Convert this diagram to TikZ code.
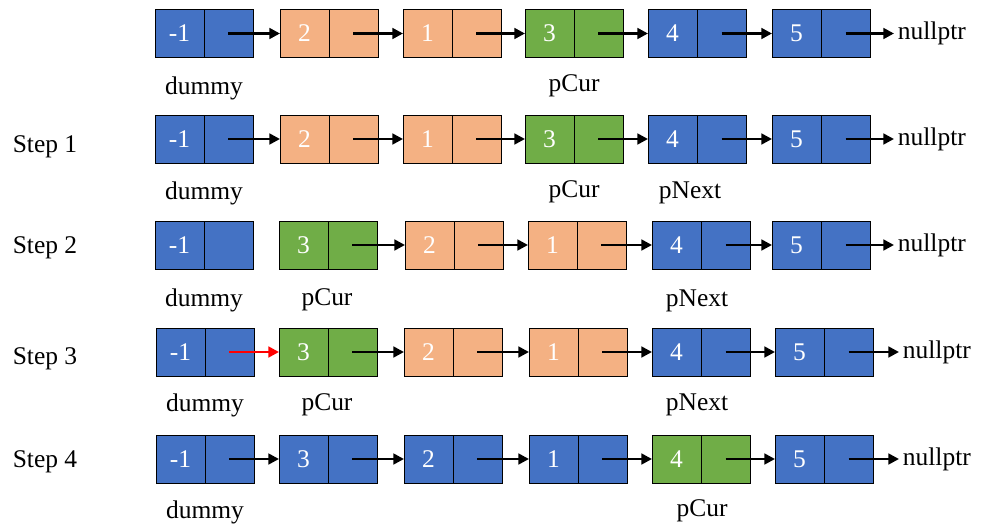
\documentclass[tikz,border=0pt]{standalone}
\usepackage{fontspec}
\setmainfont{Liberation Serif}
\usetikzlibrary{arrows.meta,positioning}
\definecolor{nodeblue}{HTML}{4472C4}
\definecolor{nodeorange}{HTML}{F4B183}
\definecolor{nodegreen}{HTML}{70AD47}
\definecolor{swapred}{HTML}{FF0000}

\begin{document}
\begin{tikzpicture}[x=0.02cm, y=-0.02cm,
  every node/.style={font=\fontsize{14.5}{17}\selectfont},
  valcell/.style={draw=black, line width=0.5pt, minimum width=0.98cm, minimum height=0.96cm,
    inner sep=0pt, outer sep=0pt, text=white, anchor=west},
  ptrcell/.style={draw=black, line width=0.5pt, minimum width=0.98cm, minimum height=0.96cm,
    inner sep=0pt, outer sep=0pt},
  nulltxt/.style={anchor=west, inner sep=2pt},
  link/.style={line width=1.6pt, -{Triangle[length=6pt,width=6pt]}},
]
\useasboundingbox (0,0) rectangle (982,530);

% Row 0: list before reversing
\foreach \i/\x/\v/\c in {1/155/-1/nodeblue, 2/280/2/nodeorange, 3/403/1/nodeorange,
    4/525/3/nodegreen, 5/648/4/nodeblue, 6/772/5/nodeblue}{
  \node[valcell, fill=\c] (v0\i) at (\x,33.5) {\v};
  \node[ptrcell, fill=\c, right=0pt of v0\i] (p0\i) {};
}
\node[nulltxt] (null0) at (894,33.5) {nullptr};
\foreach \i/\j in {1/2,2/3,3/4,4/5,5/6}
  \draw[link] (p0\i.center) -- (v0\j.west);
\draw[link] (p06.center) -- (null0.west);
\node (dummy0) at (204,88) {dummy};
\node (cur0) at (574,86) {pCur};

% Step 1: pNext follows pCur
\node (step1) at (45,147) {Step 1};
\foreach \i/\x/\v/\c in {1/155/-1/nodeblue, 2/280/2/nodeorange, 3/403/1/nodeorange,
    4/525/3/nodegreen, 5/648/4/nodeblue, 6/772/5/nodeblue}{
  \node[valcell, fill=\c] (v1\i) at (\x,139) {\v};
  \node[ptrcell, fill=\c, right=0pt of v1\i] (p1\i) {};
}
\node[nulltxt] (null1) at (894,139) {nullptr};
\foreach \i/\j in {1/2,2/3,3/4,4/5,5/6}
  \draw[link] (p1\i.center) -- (v1\j.west);
\draw[link] (p16.center) -- (null1.west);
\node (dummy1) at (204,193) {dummy};
\node (cur1) at (574,192) {pCur};
\node (next1) at (690,193) {pNext};

% Step 2: pCur moved to the front
\node (step2) at (45,248) {Step 2};
\foreach \i/\x/\v/\c in {1/155/-1/nodeblue, 2/279/3/nodegreen, 3/405/2/nodeorange,
    4/528/1/nodeorange, 5/652/4/nodeblue, 6/772/5/nodeblue}{
  \node[valcell, fill=\c] (v2\i) at (\x,245) {\v};
  \node[ptrcell, fill=\c, right=0pt of v2\i] (p2\i) {};
}
\node[nulltxt] (null2) at (894,245) {nullptr};
\foreach \i/\j in {2/3,3/4,4/5,5/6}
  \draw[link] (p2\i.center) -- (v2\j.west);
\draw[link] (p26.center) -- (null2.west);
\node (dummy2) at (204,300) {dummy};
\node (cur2) at (327,300) {pCur};
\node (next2) at (697,301) {pNext};

% Step 3: dummy points to pCur
\node (step3) at (45,359) {Step 3};
\foreach \i/\x/\v/\c in {1/156/-1/nodeblue, 2/279/3/nodegreen, 3/404/2/nodeorange,
    4/529/1/nodeorange, 5/652/4/nodeblue, 6/775/5/nodeblue}{
  \node[valcell, fill=\c] (v3\i) at (\x,352) {\v};
  \node[ptrcell, fill=\c, right=0pt of v3\i] (p3\i) {};
}
\node[nulltxt] (null3) at (899,352) {nullptr};
\draw[link, swapred] (p31.center) -- (v32.west);
\foreach \i/\j in {2/3,3/4,4/5,5/6}
  \draw[link] (p3\i.center) -- (v3\j.west);
\draw[link] (p36.center) -- (null3.west);
\node (dummy3) at (205,405) {dummy};
\node (cur3) at (327,405) {pCur};
\node (next3) at (697,405) {pNext};

% Step 4: pCur = pNext
\node (step4) at (45,462) {Step 4};
\foreach \i/\x/\v/\c in {1/156/-1/nodeblue, 2/279/3/nodeblue, 3/404/2/nodeblue,
    4/529/1/nodeblue, 5/652/4/nodegreen, 6/775/5/nodeblue}{
  \node[valcell, fill=\c] (v4\i) at (\x,459) {\v};
  \node[ptrcell, fill=\c, right=0pt of v4\i] (p4\i) {};
}
\node[nulltxt] (null4) at (899,459) {nullptr};
\foreach \i/\j in {1/2,2/3,3/4,4/5,5/6}
  \draw[link] (p4\i.center) -- (v4\j.west);
\draw[link] (p46.center) -- (null4.west);
\node (dummy4) at (205,512) {dummy};
\node (cur4) at (702,511) {pCur};
\end{tikzpicture}
\end{document}
